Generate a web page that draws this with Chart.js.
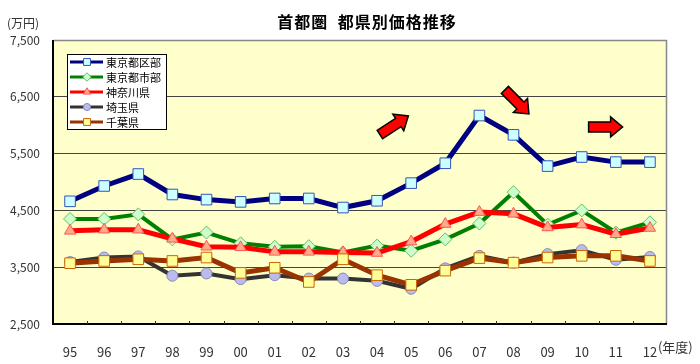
<!DOCTYPE html>
<html>
<head>
<meta charset="utf-8">
<script src="https://cdn.jsdelivr.net/npm/chart.js@4/dist/chart.umd.min.js"></script>
<style>
  html, body { margin: 0; padding: 0; background: #fff; }
  #wrap { width: 700px; height: 364px; }
</style>
</head>
<body>
<div id="wrap"><canvas id="chart" width="700" height="364"></canvas></div>
<script>
// ================= DATA =================
const years = ["95","96","97","98","99","00","01","02","03","04","05","06","07","08","09","10","11","12"];
const seriesNames = ["東京都区部", "東京都市部", "神奈川県", "埼玉県", "千葉県"];

const tokyoWards = [4660,4930,5140,4780,4690,4650,4710,4710,4550,4670,4980,5330,6170,5830,5280,5440,5350,5350];
const tokyoCities = [4350,4350,4430,3990,4110,3920,3860,3870,3760,3880,3790,3990,4270,4820,4250,4500,4110,4290];
const kanagawa   = [4140,4160,4160,4000,3860,3850,3770,3770,3760,3750,3950,4260,4470,4440,4200,4250,4080,4190];
const saitama    = [3590,3670,3690,3350,3390,3290,3360,3300,3300,3260,3120,3480,3700,3580,3730,3800,3630,3680];
const chiba      = [3570,3610,3640,3610,3670,3400,3490,3240,3640,3360,3190,3440,3660,3580,3670,3700,3700,3610];

const yTicks = [2500, 3500, 4500, 5500, 6500, 7500];

// ================= STYLES =================
const FONT = "'Noto Sans CJK JP', 'DejaVu Sans', sans-serif";
const styles = [
  { line: "#000080", fill: "#CCFFFF", edge: "#3355BB", shape: "rect", r: 7.5, w: 5 },
  { line: "#008000", fill: "#CCFFCC", edge: "#66BB66", shape: "rectRot", r: 6.5, w: 4 },
  { line: "#FF0000", fill: "#FFAA88", edge: "#FF5555", shape: "triangle", r: 6.5, w: 5 },
  { line: "#333333", fill: "#BBBBEE", edge: "#8888BB", shape: "circle", r: 5.5, w: 4 },
  { line: "#993300", fill: "#FFFF99", edge: "#CC6600", shape: "rect", r: 7.5, w: 5 },
];
const seriesData = [tokyoWards, tokyoCities, kanagawa, saitama, chiba];

// decorative arrows, in data coordinates (category index, value) + angle in degrees
const arrows = [
  { x: 9.5, y: 6000, angle: -33 },
  { x: 13.1, y: 6410, angle: 45 },
  { x: 15.7, y: 5970, angle: 0 },
];

// ================= PLUGINS =================
const decorPlugin = {
  id: "decor",
  beforeDraw(chart) {
    const { ctx, chartArea: a } = chart;
    ctx.save();
    ctx.fillStyle = "#FFFFCC";
    ctx.fillRect(a.left, a.top, a.right - a.left, a.bottom - a.top);
    ctx.restore();
  },
  beforeDatasetsDraw(chart) {
    const { ctx, chartArea: a, scales } = chart;
    ctx.save();
    // frame: gray top/right, black left/bottom
    ctx.strokeStyle = "#888";
    ctx.lineWidth = 1.5;
    ctx.beginPath();
    ctx.moveTo(a.left, a.top + 0.5);
    ctx.lineTo(a.right - 0.5, a.top + 0.5);
    ctx.lineTo(a.right - 0.5, a.bottom);
    ctx.stroke();
    ctx.strokeStyle = "#000";
    ctx.lineWidth = 2;
    ctx.beginPath();
    ctx.moveTo(a.left, a.top);
    ctx.lineTo(a.left, a.bottom);
    ctx.lineTo(a.right, a.bottom);
    ctx.stroke();
    // inside ticks at category boundaries
    const x = scales.x;
    const step = x.getPixelForValue(1) - x.getPixelForValue(0);
    ctx.lineWidth = 1;
    ctx.strokeStyle = "#333";
    for (let i = 0; i < years.length - 1; i++) {
      const px = Math.round(x.getPixelForValue(i) + step / 2) + 0.5;
      ctx.beginPath();
      ctx.moveTo(px, a.bottom);
      ctx.lineTo(px, a.bottom - 3);
      ctx.stroke();
    }
    ctx.restore();
  },
  afterDraw(chart) {
    const { ctx, chartArea: a, scales } = chart;
    ctx.save();
    // title + unit labels
    ctx.fillStyle = "#000";
    ctx.font = "bold 16px " + FONT;
    ctx.letterSpacing = "1px";
    ctx.textAlign = "center";
    ctx.textBaseline = "middle";
    ctx.fillText("首都圏  都県別価格推移", 367, 22);
    ctx.letterSpacing = "0px";
    ctx.font = "12px " + FONT;
    ctx.fillStyle = "#333";
    ctx.textAlign = "left";
    ctx.fillText("(万円)", 7, 23);
    ctx.font = "13px " + FONT;
    ctx.fillText("(年度)", scales.x.getPixelForValue(years.length - 1) + 8, 347);

    // arrows
    arrows.forEach((ar) => {
      const cx = scales.x.getPixelForValue(ar.x);
      const cy = scales.y.getPixelForValue(ar.y);
      ctx.save();
      ctx.translate(cx, cy);
      ctx.rotate((ar.angle * Math.PI) / 180);
      ctx.beginPath();
      ctx.moveTo(-17, -5);
      ctx.lineTo(5, -5);
      ctx.lineTo(5, -10);
      ctx.lineTo(17, 0);
      ctx.lineTo(5, 10);
      ctx.lineTo(5, 5);
      ctx.lineTo(-17, 5);
      ctx.closePath();
      ctx.fillStyle = "#FF0000";
      ctx.fill();
      ctx.lineWidth = 1.5;
      ctx.strokeStyle = "#000";
      ctx.stroke();
      ctx.restore();
    });

    // legend box inside plot
    const lx = a.left + 14, ly = a.top + 14, lw = 99, lh = 75;
    ctx.fillStyle = "#fff";
    ctx.fillRect(lx, ly, lw, lh);
    ctx.strokeStyle = "#000";
    ctx.lineWidth = 1;
    ctx.strokeRect(lx + 0.5, ly + 0.5, lw, lh);
    ctx.font = "11px " + FONT;
    ctx.textAlign = "left";
    ctx.textBaseline = "middle";
    seriesNames.forEach((name, i) => {
      const s = styles[i];
      const y = ly + 8 + i * 15;
      ctx.strokeStyle = s.line;
      ctx.lineWidth = 3;
      ctx.beginPath();
      ctx.moveTo(lx + 3, y);
      ctx.lineTo(lx + 36, y);
      ctx.stroke();
      ctx.fillStyle = s.fill;
      ctx.strokeStyle = s.edge;
      ctx.lineWidth = 1;
      Chart.helpers.drawPoint(ctx, { pointStyle: s.shape, radius: s.r * 0.65, rotation: 0, borderWidth: 1 }, lx + 20, y);
      ctx.fillStyle = "#000";
      ctx.fillText(name, lx + 39, y + 1);
    });
    ctx.restore();
  },
};

// ================= CHART =================
const datasets = seriesData.map((d, i) => ({
  label: seriesNames[i],
  data: d,
  borderColor: styles[i].line,
  borderWidth: styles[i].w,
  pointStyle: styles[i].shape,
  pointRadius: styles[i].r,
  pointBackgroundColor: styles[i].fill,
  pointBorderColor: styles[i].edge,
  pointBorderWidth: 1,
  tension: 0,
  order: 5 - i,
}));

new Chart(document.getElementById("chart"), {
  type: "line",
  data: { labels: years, datasets },
  options: {
    responsive: false,
    animation: false,
    layout: { padding: { top: 40, right: 33, left: 0, bottom: 0 } },
    plugins: { legend: { display: false }, tooltip: { enabled: false } },
    scales: {
      x: {
        offset: true,
        grid: { display: false },
        border: { display: false },
        ticks: { color: "#333", font: { family: FONT, size: 13 }, padding: 12, maxRotation: 0 },
        afterFit: (s) => { s.height = 40; },
      },
      y: {
        min: 2500,
        max: 7500,
        afterBuildTicks: (s) => { s.ticks = yTicks.map((v) => ({ value: v })); },
        grid: { color: "#444", lineWidth: 1, drawTicks: false },
        border: { display: false },
        ticks: {
          color: "#333",
          font: { family: FONT, size: 12 },
          padding: 13,
          callback: (v) => v.toLocaleString("en-US"),
        },
        afterFit: (s) => { s.width = 53; },
      },
    },
  },
  plugins: [decorPlugin],
});
</script>
</body>
</html>
